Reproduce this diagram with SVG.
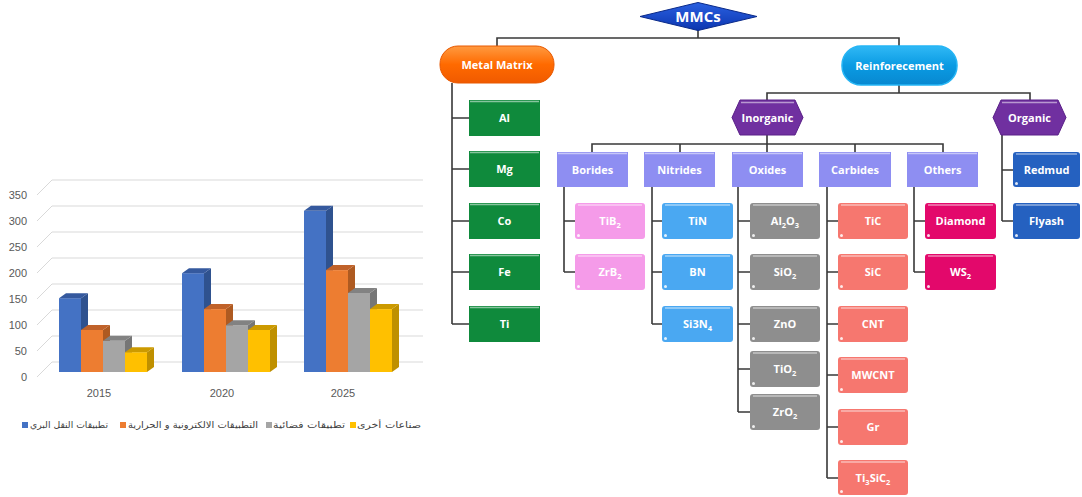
<svg xmlns="http://www.w3.org/2000/svg" width="1082" height="497" viewBox="0 0 1082 497">
<style>
.lbl{font-family:"Open Sans","Liberation Sans",sans-serif;font-weight:bold;font-size:11px;fill:#fff;text-anchor:middle}
.sub{font-size:7.5px}
.ax{font-family:"Liberation Sans",sans-serif;font-size:11px;fill:#595959}
.ar{font-family:"DejaVu Sans",sans-serif;font-size:9px;fill:#404040}
.conn{stroke:#383838;stroke-width:1.6;fill:none}
.grid{stroke:#d9d9d9;stroke-width:1;fill:none}
.hl{stroke:#fff;stroke-opacity:.5;stroke-width:1.5}
.dot{fill:#fff;fill-opacity:.85}
.green{fill:#0f8a3c}
.cat{fill:#8e8ef2}
.pink{fill:#f59be9}
.lblue{fill:#4aa8f2}
.gray{fill:#8e8e8e}
.salmon{fill:#f6776f}
.mag{fill:#e3086b}
.dblue{fill:#2561c0}
.hex{fill:#7030a0;stroke:#5a2088;stroke-width:1}
</style>
<defs>
<linearGradient id="gOr" x1="0" y1="0" x2="0" y2="1"><stop offset="0" stop-color="#ff9a40"/><stop offset="0.5" stop-color="#ff6a00"/><stop offset="1" stop-color="#f05a00"/></linearGradient>
<linearGradient id="gBl" x1="0" y1="0" x2="0" y2="1"><stop offset="0" stop-color="#30b8f5"/><stop offset="0.5" stop-color="#0a9be3"/><stop offset="1" stop-color="#0888d0"/></linearGradient>
<linearGradient id="gMm" x1="0" y1="0" x2="0" y2="1"><stop offset="0" stop-color="#2a60e0"/><stop offset="1" stop-color="#0c36b0"/></linearGradient>
</defs>

<!-- chart -->
<g id="chart">
<g id="gridlines">
<path class="grid" d="M37 377L52 362H423M37 351L52 336H423M37 325L52 310H423M37 299L52 284H423M37 273L52 258H423M37 247L52 232H423M37 221L52 206H423M37 195L52 180H423"/>
</g>
<g id="yaxis" text-anchor="end">
<text class="ax" x="27" y="381">0</text>
<text class="ax" x="27" y="355">50</text>
<text class="ax" x="27" y="329">100</text>
<text class="ax" x="27" y="303">150</text>
<text class="ax" x="27" y="277">200</text>
<text class="ax" x="27" y="251">250</text>
<text class="ax" x="27" y="225">300</text>
<text class="ax" x="27" y="199">350</text>
</g>
<g id="xaxis" text-anchor="middle">
<text class="ax" x="99" y="397">2015</text>
<text class="ax" x="222" y="397">2020</text>
<text class="ax" x="343" y="397">2025</text>
</g>
<g id="bars2015">
<rect x="59" y="298.2" width="22" height="73.8" fill="#4472c4"/><polygon points="81,298.2 88,293.2 88,367 81,372" fill="#2f528f"/><polygon points="59,298.2 66,293.2 88,293.2 81,298.2" fill="#35599e"/>
<rect x="81" y="329.9" width="22" height="42.1" fill="#ed7d31"/><polygon points="103,329.9 110,324.9 110,367 103,372" fill="#ae5a21"/><polygon points="81,329.9 88,324.9 110,324.9 103,329.9" fill="#c0622a"/>
<rect x="103" y="340.8" width="22" height="31.2" fill="#a5a5a5"/><polygon points="125,340.8 132,335.8 132,367 125,372" fill="#767676"/><polygon points="103,340.8 110,335.8 132,335.8 125,340.8" fill="#828282"/>
<rect x="125" y="352.2" width="22" height="19.8" fill="#ffc000"/><polygon points="147,352.2 154,347.2 154,367 147,372" fill="#bf9000"/><polygon points="125,352.2 132,347.2 154,347.2 147,352.2" fill="#cc9a00"/>
</g>
<g id="bars2020">
<rect x="182" y="273.2" width="22" height="98.8" fill="#4472c4"/><polygon points="204,273.2 211,268.2 211,367 204,372" fill="#2f528f"/><polygon points="182,273.2 189,268.2 211,268.2 204,273.2" fill="#35599e"/>
<rect x="204" y="309.1" width="22" height="62.9" fill="#ed7d31"/><polygon points="226,309.1 233,304.1 233,367 226,372" fill="#ae5a21"/><polygon points="204,309.1 211,304.1 233,304.1 226,309.1" fill="#c0622a"/>
<rect x="226" y="325.2" width="22" height="46.8" fill="#a5a5a5"/><polygon points="248,325.2 255,320.2 255,367 248,372" fill="#767676"/><polygon points="226,325.2 233,320.2 255,320.2 248,325.2" fill="#828282"/>
<rect x="248" y="329.9" width="22" height="42.1" fill="#ffc000"/><polygon points="270,329.9 277,324.9 277,367 270,372" fill="#bf9000"/><polygon points="248,329.9 255,324.9 277,324.9 270,329.9" fill="#cc9a00"/>
</g>
<g id="bars2025">
<rect x="304" y="210.8" width="22" height="161.2" fill="#4472c4"/><polygon points="326,210.8 333,205.8 333,367 326,372" fill="#2f528f"/><polygon points="304,210.8 311,205.8 333,205.8 326,210.8" fill="#35599e"/>
<rect x="326" y="270.1" width="22" height="101.9" fill="#ed7d31"/><polygon points="348,270.1 355,265.1 355,367 348,372" fill="#ae5a21"/><polygon points="326,270.1 333,265.1 355,265.1 348,270.1" fill="#c0622a"/>
<rect x="348" y="293" width="22" height="79" fill="#a5a5a5"/><polygon points="370,293 377,288 377,367 370,372" fill="#767676"/><polygon points="348,293 355,288 377,288 370,293" fill="#828282"/>
<rect x="370" y="309.1" width="22" height="62.9" fill="#ffc000"/><polygon points="392,309.1 399,304.1 399,367 392,372" fill="#bf9000"/><polygon points="370,309.1 377,304.1 399,304.1 392,309.1" fill="#cc9a00"/>
</g>
<g id="legend">
<rect x="22" y="422" width="6" height="6" fill="#4472c4"/>
<text class="ar" x="30" y="428" textLength="78" lengthAdjust="spacingAndGlyphs">تطبيقات النقل البري</text>
<rect x="120" y="422" width="6" height="6" fill="#ed7d31"/>
<text class="ar" x="128" y="428" textLength="130" lengthAdjust="spacingAndGlyphs">التطبيقات الالكترونية و الحرارية</text>
<rect x="266" y="422" width="6" height="6" fill="#a5a5a5"/>
<text class="ar" x="273" y="428" textLength="72" lengthAdjust="spacingAndGlyphs">تطبيقات فضائية</text>
<rect x="350" y="422" width="6" height="6" fill="#ffc000"/>
<text class="ar" x="357" y="428" textLength="64" lengthAdjust="spacingAndGlyphs">صناعات أخرى</text>
</g>
</g>

<!-- connectors -->
<g id="connectors">
<path class="conn" d="M698 30V38M497 46V38H899V46"/>
<path class="conn" d="M452 83V324M452 118H469M452 169H469M452 221H469M452 272H469M452 324H469"/>
<path class="conn" d="M899 85V93M767 100V93H1030V100"/>
<path class="conn" d="M767 135V144M592 152V144H943V152M680 144V152M767 144V152M855 144V152"/>
<path class="conn" d="M1002 135V221M1002 170H1013M1002 221H1013"/>
<path class="conn" d="M564 187V272M564 221H575M564 272H575"/>
<path class="conn" d="M652 187V324M652 221H662M652 272H662M652 324H662"/>
<path class="conn" d="M738 187V412M738 221H750M738 272H750M738 324H750M738 369H750M738 412H750"/>
<path class="conn" d="M827 187V478M827 221H838M827 272H838M827 324H838M827 375H838M827 427H838M827 478H838"/>
<path class="conn" d="M914 187V272M914 221H925M914 272H925"/>
</g>

<!-- top nodes -->
<g id="n-mmcs"><polygon points="640,16.5 698,2.5 757,16.5 698,30.5" fill="url(#gMm)" stroke="#0a2a8a" stroke-width="1"/><text class="lbl" x="698" y="22" style="font-size:15px">MMCs</text></g>
<g id="n-metal"><rect x="440" y="46" width="114" height="37" rx="18" fill="url(#gOr)" stroke="#e85800" stroke-width="1"/><text class="lbl" x="497" y="68.5">Metal Matrix</text></g>
<g id="n-reinf"><rect x="842" y="46" width="115" height="39" rx="19" fill="url(#gBl)" stroke="#25b5f5" stroke-width="1.5"/><text class="lbl" x="899.5" y="69.5">Reinforecement</text></g>
<g id="n-inorg"><polygon class="hex" points="732,117.5 740,100 795,100 803,117.5 795,135 740,135"/><line class="hl" x1="741" y1="102.5" x2="794" y2="102.5"/><text class="lbl" x="767.5" y="121.5">Inorganic</text></g>
<g id="n-org"><polygon class="hex" points="993,117.5 1001,100 1058,100 1066,117.5 1058,135 1001,135"/><line class="hl" x1="1002" y1="102.5" x2="1057" y2="102.5"/><text class="lbl" x="1029.5" y="121.5">Organic</text></g>

<!-- metal matrix children -->
<g id="n-al"><rect class="green" x="469" y="100" width="71" height="36"/><line class="hl" x1="470" y1="101.5" x2="539" y2="101.5"/><text class="lbl" x="504.5" y="122">Al</text></g>
<g id="n-mg"><rect class="green" x="469" y="151" width="71" height="36"/><line class="hl" x1="470" y1="152.5" x2="539" y2="152.5"/><text class="lbl" x="504.5" y="173">Mg</text></g>
<g id="n-co"><rect class="green" x="469" y="203" width="71" height="36"/><line class="hl" x1="470" y1="204.5" x2="539" y2="204.5"/><text class="lbl" x="504.5" y="225">Co</text></g>
<g id="n-fe"><rect class="green" x="469" y="254" width="71" height="36"/><line class="hl" x1="470" y1="255.5" x2="539" y2="255.5"/><text class="lbl" x="504.5" y="276">Fe</text></g>
<g id="n-ti"><rect class="green" x="469" y="306" width="71" height="36"/><line class="hl" x1="470" y1="307.5" x2="539" y2="307.5"/><text class="lbl" x="504.5" y="328">Ti</text></g>

<!-- categories -->
<g id="n-borides"><rect class="cat" x="557" y="152" width="71" height="35"/><line class="hl" x1="558" y1="153.5" x2="627" y2="153.5"/><text class="lbl" x="592.5" y="173.5">Borides</text></g>
<g id="n-nitrides"><rect class="cat" x="644" y="152" width="71" height="35"/><line class="hl" x1="645" y1="153.5" x2="714" y2="153.5"/><text class="lbl" x="679.5" y="173.5">Nitrides</text></g>
<g id="n-oxides"><rect class="cat" x="732" y="152" width="71" height="35"/><line class="hl" x1="733" y1="153.5" x2="802" y2="153.5"/><text class="lbl" x="767.5" y="173.5">Oxides</text></g>
<g id="n-carbides"><rect class="cat" x="819" y="152" width="72" height="35"/><line class="hl" x1="820" y1="153.5" x2="890" y2="153.5"/><text class="lbl" x="855" y="173.5">Carbides</text></g>
<g id="n-others"><rect class="cat" x="907" y="152" width="71" height="35"/><line class="hl" x1="908" y1="153.5" x2="977" y2="153.5"/><text class="lbl" x="942.5" y="173.5">Others</text></g>

<!-- borides -->
<g id="n-tib2"><rect class="pink" x="575" y="203" width="70" height="36" rx="3"/><line class="hl" x1="578" y1="205" x2="642" y2="205"/><circle class="dot" cx="578.5" cy="235.5" r="1.5"/><text class="lbl" x="610" y="225">TiB<tspan class="sub" dy="3">2</tspan></text></g>
<g id="n-zrb2"><rect class="pink" x="575" y="254" width="70" height="36" rx="3"/><line class="hl" x1="578" y1="256" x2="642" y2="256"/><circle class="dot" cx="578.5" cy="286.5" r="1.5"/><text class="lbl" x="610" y="276">ZrB<tspan class="sub" dy="3">2</tspan></text></g>
<!-- nitrides -->
<g id="n-tin"><rect class="lblue" x="662" y="203" width="71" height="36" rx="3"/><line class="hl" x1="665" y1="205" x2="730" y2="205"/><circle class="dot" cx="665.5" cy="235.5" r="1.5"/><text class="lbl" x="697.5" y="225">TiN</text></g>
<g id="n-bn"><rect class="lblue" x="662" y="254" width="71" height="36" rx="3"/><line class="hl" x1="665" y1="256" x2="730" y2="256"/><circle class="dot" cx="665.5" cy="286.5" r="1.5"/><text class="lbl" x="697.5" y="276">BN</text></g>
<g id="n-si3n4"><rect class="lblue" x="662" y="306" width="71" height="36" rx="3"/><line class="hl" x1="665" y1="308" x2="730" y2="308"/><circle class="dot" cx="665.5" cy="338.5" r="1.5"/><text class="lbl" x="697.5" y="328">Si3N<tspan class="sub" dy="3">4</tspan></text></g>
<!-- oxides -->
<g id="n-al2o3"><rect class="gray" x="750" y="203" width="70" height="36" rx="3"/><line class="hl" x1="753" y1="205" x2="817" y2="205"/><circle class="dot" cx="753.5" cy="235.5" r="1.5"/><text class="lbl" x="785" y="225">Al<tspan class="sub" dy="3">2</tspan><tspan dy="-3">O</tspan><tspan class="sub" dy="3">3</tspan></text></g>
<g id="n-sio2"><rect class="gray" x="750" y="254" width="70" height="36" rx="3"/><line class="hl" x1="753" y1="256" x2="817" y2="256"/><circle class="dot" cx="753.5" cy="286.5" r="1.5"/><text class="lbl" x="785" y="276">SiO<tspan class="sub" dy="3">2</tspan></text></g>
<g id="n-zno"><rect class="gray" x="750" y="306" width="70" height="36" rx="3"/><line class="hl" x1="753" y1="308" x2="817" y2="308"/><circle class="dot" cx="753.5" cy="338.5" r="1.5"/><text class="lbl" x="785" y="328">ZnO</text></g>
<g id="n-tio2"><rect class="gray" x="750" y="351" width="70" height="36" rx="3"/><line class="hl" x1="753" y1="353" x2="817" y2="353"/><circle class="dot" cx="753.5" cy="383.5" r="1.5"/><text class="lbl" x="785" y="373">TiO<tspan class="sub" dy="3">2</tspan></text></g>
<g id="n-zro2"><rect class="gray" x="750" y="394" width="70" height="36" rx="3"/><line class="hl" x1="753" y1="396" x2="817" y2="396"/><circle class="dot" cx="753.5" cy="426.5" r="1.5"/><text class="lbl" x="785" y="416">ZrO<tspan class="sub" dy="3">2</tspan></text></g>
<!-- carbides -->
<g id="n-tic"><rect class="salmon" x="838" y="203" width="70" height="36" rx="3"/><line class="hl" x1="841" y1="205" x2="905" y2="205"/><circle class="dot" cx="841.5" cy="235.5" r="1.5"/><text class="lbl" x="873" y="225">TiC</text></g>
<g id="n-sic"><rect class="salmon" x="838" y="254" width="70" height="36" rx="3"/><line class="hl" x1="841" y1="256" x2="905" y2="256"/><circle class="dot" cx="841.5" cy="286.5" r="1.5"/><text class="lbl" x="873" y="276">SiC</text></g>
<g id="n-cnt"><rect class="salmon" x="838" y="306" width="70" height="36" rx="3"/><line class="hl" x1="841" y1="308" x2="905" y2="308"/><circle class="dot" cx="841.5" cy="338.5" r="1.5"/><text class="lbl" x="873" y="328">CNT</text></g>
<g id="n-mwcnt"><rect class="salmon" x="838" y="357" width="70" height="36" rx="3"/><line class="hl" x1="841" y1="359" x2="905" y2="359"/><circle class="dot" cx="841.5" cy="389.5" r="1.5"/><text class="lbl" x="873" y="379">MWCNT</text></g>
<g id="n-gr"><rect class="salmon" x="838" y="409" width="70" height="36" rx="3"/><line class="hl" x1="841" y1="411" x2="905" y2="411"/><circle class="dot" cx="841.5" cy="441.5" r="1.5"/><text class="lbl" x="873" y="431">Gr</text></g>
<g id="n-ti3sic2"><rect class="salmon" x="838" y="460" width="70" height="35" rx="3"/><line class="hl" x1="841" y1="462" x2="905" y2="462"/><circle class="dot" cx="841.5" cy="491.5" r="1.5"/><text class="lbl" x="873" y="482">Ti<tspan class="sub" dy="3">3</tspan><tspan dy="-3">SiC</tspan><tspan class="sub" dy="3">2</tspan></text></g>
<!-- others -->
<g id="n-diamond"><rect class="mag" x="925" y="203" width="71" height="36" rx="3"/><line class="hl" x1="928" y1="205" x2="993" y2="205"/><circle class="dot" cx="928.5" cy="235.5" r="1.5"/><text class="lbl" x="960.5" y="225">Diamond</text></g>
<g id="n-ws2"><rect class="mag" x="925" y="254" width="71" height="36" rx="3"/><line class="hl" x1="928" y1="256" x2="993" y2="256"/><circle class="dot" cx="928.5" cy="286.5" r="1.5"/><text class="lbl" x="960.5" y="276">WS<tspan class="sub" dy="3">2</tspan></text></g>
<!-- organic -->
<g id="n-redmud"><rect class="dblue" x="1013" y="152" width="67" height="35" rx="3"/><line class="hl" x1="1016" y1="154" x2="1077" y2="154"/><circle class="dot" cx="1016.5" cy="183.5" r="1.5"/><text class="lbl" x="1046.5" y="173.5">Redmud</text></g>
<g id="n-flyash"><rect class="dblue" x="1013" y="203" width="67" height="36" rx="3"/><line class="hl" x1="1016" y1="205" x2="1077" y2="205"/><circle class="dot" cx="1016.5" cy="235.5" r="1.5"/><text class="lbl" x="1046.5" y="225">Flyash</text></g>
</svg>
